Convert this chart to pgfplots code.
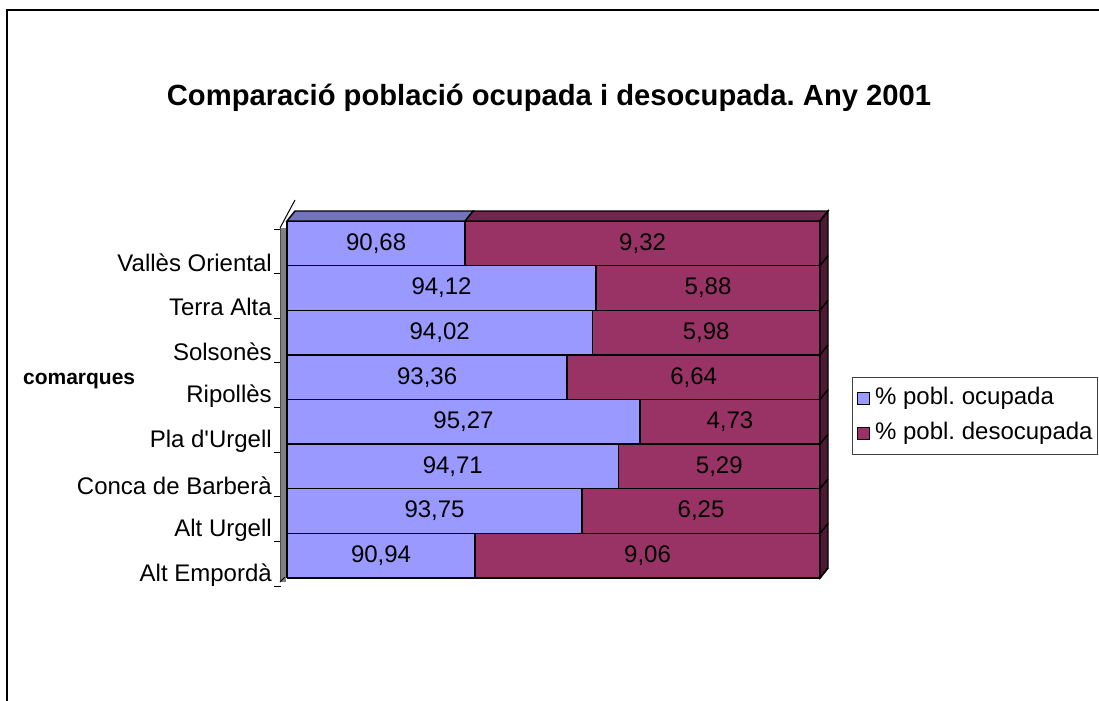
\documentclass[border=0pt]{standalone}
\usepackage{pgfplots}
\pgfplotsset{compat=1.18}
\usepackage{fontspec}
\setmainfont{Liberation Sans}
\frenchspacing
\definecolor{ocup}{HTML}{9999FF}
\definecolor{desoc}{HTML}{993366}
\definecolor{ocuptop}{HTML}{7373C0}
\definecolor{desoctop}{HTML}{73264D}
\definecolor{desocside}{HTML}{4D1A33}
\begin{document}
\begin{tikzpicture}
\useasboundingbox (0pt,0pt) rectangle (824.25pt,-525pt);
\draw[line width=1.1pt] (5.25pt,-7.5pt) rectangle (840pt,-540pt);
\begin{axis}[
  at={(215.25pt,-433.5pt)}, anchor=south west,
  scale only axis, width=399.75pt, height=267.75pt,
  xbar stacked, bar width=1,
  xmin=86, xmax=100, ymin=-0.5, ymax=7.5,
  axis line style={draw=none},
  xtick=\empty,
  ytick={0,...,7},
  yticklabels={Alt Empordà, Alt Urgell, Conca de Barberà, Pla d\textquotesingle Urgell, Ripollès, Solsonès, Terra Alta, Vallès Oriental},
  tick pos=left,
  major tick length=0pt,
  minor ytick={-0.5,0.5,...,7.5},
  minor tick length=5.25pt,
  tick align=outside,
  minor tick style={black, line width=0.75pt, xshift=-4.5pt, yshift=-6pt},
  yticklabel style={font=\fontsize{18}{20}\selectfont, yshift=-14.25pt, xshift=-11.25pt, inner sep=0pt, anchor=east},
  title={Comparació població ocupada i desocupada. Any 2001},
  title style={font=\fontsize{21.9}{24}\selectfont\bfseries, at={(axis description cs:0.4916,1.322)}, anchor=center},
  ylabel={comarques},
  ylabel style={font=\fontsize{15.75}{18}\selectfont\bfseries, rotate=-90, at={(axis description cs:-0.390,0.553)}, anchor=center},
  legend style={at={(1.060,0.563)}, anchor=north west, draw=black!75, line width=0.75pt,
    font=\fontsize{18}{20}\selectfont, inner xsep=3.75pt, inner ysep=7pt,
    nodes={inner sep=0pt, text height=13.5pt, text depth=3.75pt},
    row sep=9pt, column sep=3.5pt},
  legend cell align=left,
]
\addplot[fill=ocup, draw=black, line width=1.1pt,
  legend image code/.code={\draw[fill=ocup, draw=black, line width=0.75pt] (0pt,-4.5pt) rectangle (9pt,4.5pt);}]
  coordinates {(90.94,0) (93.75,1) (94.71,2) (95.27,3) (93.36,4) (94.02,5) (94.12,6) (90.68,7)};
\addplot[fill=desoc, draw=black, line width=1.1pt,
  legend image code/.code={\draw[fill=desoc, draw=black, line width=0.75pt] (0pt,-4.5pt) rectangle (9pt,4.5pt);}]
  coordinates {(9.06,0) (6.25,1) (5.29,2) (4.73,3) (6.64,4) (5.98,5) (5.88,6) (9.32,7)};
\legend{\% pobl.\ ocupada, \% pobl.\ desocupada}
\coordinate (tl) at (axis cs:86,7.5);
\coordinate (tm) at (axis cs:90.68,7.5);
\coordinate (tr) at (axis cs:100,7.5);
\coordinate (bl) at (axis cs:86,-0.5);
\coordinate (br) at (axis cs:100,-0.5);
\pgfplotsinvokeforeach{0,...,8}{\coordinate (r#1) at (axis cs:100,#1-0.5);}
\end{axis}
% 3D decoration
\fill[gray] ([shift={(-5.25pt,-5.25pt)}]tl) rectangle ([shift={(-0.75pt,-3pt)}]bl);
\draw[black!70, line width=0.75pt] ([shift={(-5.25pt,-5.25pt)}]tl) -- ([shift={(-5.25pt,-3pt)}]bl);
\draw[black, line width=0.75pt] ([shift={(-5.25pt,-5.25pt)}]tl) -- ++(11.25pt,21pt);
\draw[black, line width=0.75pt] ([shift={(-5.25pt,-3pt)}]bl) -- ++(3.5pt,3.5pt);
\filldraw[fill=ocuptop, draw=black, line width=1.1pt] (tl) -- ([shift={(6pt,7.5pt)}]tl) -- ([shift={(6pt,7.5pt)}]tm) -- (tm) -- cycle;
\filldraw[fill=desoctop, draw=black, line width=1.1pt] (tm) -- ([shift={(6pt,7.5pt)}]tm) -- ([shift={(6pt,7.5pt)}]tr) -- (tr) -- cycle;
\filldraw[fill=desocside, draw=black, line width=1.1pt] (tr) -- ([shift={(6pt,7.5pt)}]tr) -- ([shift={(6pt,7.5pt)}]br) -- (br) -- cycle;
\foreach \i in {0,...,8} {\draw[black, line width=1.1pt] (r\i) -- ++(6pt,7.5pt);}
\draw[black, line width=1.1pt] (tl) -- (bl);
% data labels
\begin{axis}[
  at={(215.25pt,-433.5pt)}, anchor=south west,
  scale only axis, width=399.75pt, height=267.75pt,
  xmin=86, xmax=100, ymin=-0.5, ymax=7.5,
  hide axis, clip=false,
  nodes near coords, point meta=explicit symbolic,
  every node near coord/.append style={anchor=center, font=\fontsize{18}{20}\selectfont, text=black, inner sep=0pt},
]
\addplot[draw=none, mark=none, nodes near coords] coordinates {
  (88.47,0) [90,94] (89.875,1) [93,75] (90.355,2) [94,71] (90.635,3) [95,27]
  (89.68,4) [93,36] (90.01,5) [94,02] (90.06,6) [94,12] (88.34,7) [90,68]};
\addplot[draw=none, mark=none, nodes near coords] coordinates {
  (95.47,0) [9,06] (96.875,1) [6,25] (97.355,2) [5,29] (97.635,3) [4,73]
  (96.68,4) [6,64] (97.01,5) [5,98] (97.06,6) [5,88] (95.34,7) [9,32]};
\end{axis}
\end{tikzpicture}
\end{document}
